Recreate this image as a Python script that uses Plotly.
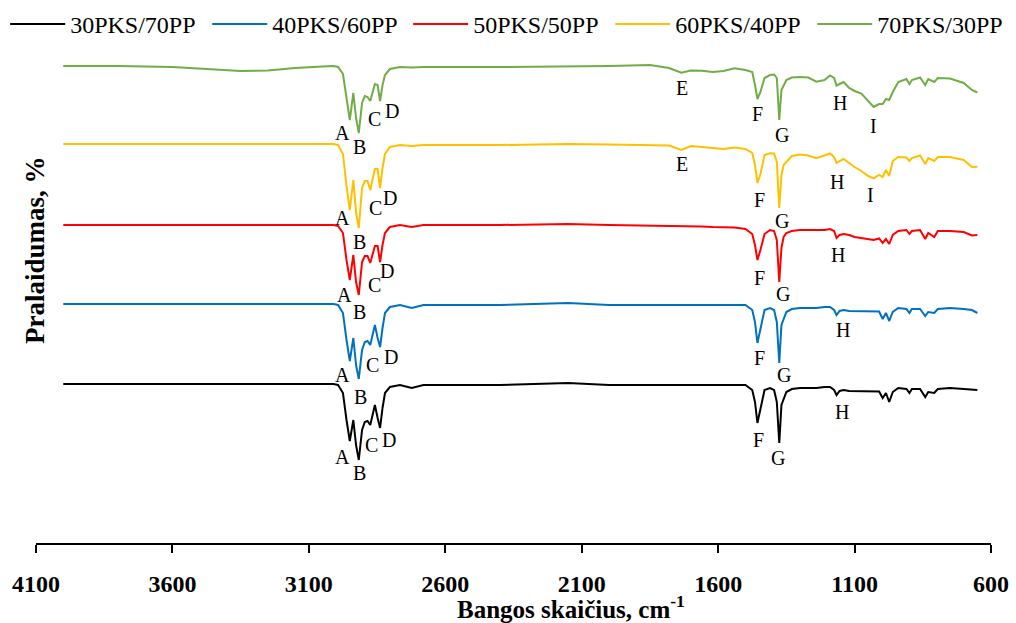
import plotly.graph_objects as go

# Wavenumbers (cm-1), shared by all spectra
wavenumber = [4000, 3800, 3600, 3450, 3350, 3250, 3150, 3050, 3010, 2993,
              2975, 2962, 2950, 2937, 2927, 2917, 2905, 2895, 2885, 2875,
              2858, 2848, 2839, 2830, 2821, 2803, 2766, 2723, 2680, 2400,
              2150, 2000, 1850, 1780, 1735, 1700, 1660, 1620, 1580, 1540,
              1500, 1475, 1465, 1456, 1445, 1430, 1410, 1395, 1385, 1376,
              1368, 1360, 1350, 1330, 1300, 1270, 1240, 1210, 1190, 1175,
              1166, 1155, 1140, 1120, 1100, 1075, 1050, 1030, 1010, 997,
              985, 973, 960, 940, 910, 899, 890, 860, 841, 830,
              808, 795, 750, 700, 670, 650]

# Offset transmittance (arbitrary units)
pks30_pp70 = [159, 159, 159, 159, 159, 159, 159, 159, 159, 158,
              150, 123, 102, 123, 98, 83, 113, 121, 122, 118,
              138, 125, 115, 135, 150, 156, 158, 155, 158, 158,
              160, 158, 158, 158, 158, 158, 158, 158, 158, 158,
              158, 153, 141, 120, 133, 153, 155, 153, 141, 100,
              138, 143, 151, 154, 155, 155, 155, 156, 156, 153,
              148, 152, 153, 152, 152, 151.5, 151.5, 151.5, 151.5, 145,
              150, 141, 151, 155, 154, 150, 154, 154, 146, 151,
              150, 154, 155, 154, 153.5, 153]

pks40_pp60 = [239, 239, 239, 239, 239, 239, 239, 239, 239, 238,
              230, 203, 182, 205, 178, 164, 193, 201, 202, 198,
              218, 205, 196, 215, 230, 236, 238, 235, 238, 238,
              240, 238, 238, 238, 238, 238, 238, 238, 238, 238,
              238, 233, 221, 200, 213, 233, 235, 233, 221, 180,
              218, 223, 231, 234, 235, 235, 235, 236, 236, 233,
              228, 232, 233, 232, 232, 231.5, 231.5, 231.5, 231.5, 224,
              230, 222, 231, 235, 234, 230, 234, 234, 227, 231,
              230, 234, 235, 234, 233, 230]

pks50_pp50 = [318, 318, 318, 318, 318, 318, 318, 318, 318, 317,
              310, 283, 263, 288, 261, 248, 281, 287, 287, 280,
              297, 297, 281, 298, 310, 316, 318, 316, 318, 318,
              319, 318, 317.5, 317.5, 317, 317, 316.5, 316, 316, 315.5,
              314, 309, 298, 283, 293, 309, 313, 312, 303, 261,
              295, 306, 310, 312, 313, 313, 312.5, 313, 314, 312,
              305, 308, 309, 308, 306, 305, 304, 303, 304.5, 300,
              304, 299, 308, 312, 313, 309, 312, 313, 304, 310,
              306, 312, 312, 311, 307.5, 308]

pks60_pp40 = [399, 399, 399, 399, 399, 399, 399, 399, 399, 398,
              389, 357, 333, 363, 331, 315, 355, 362, 362, 353,
              374, 374, 355, 375, 389, 396, 398, 397, 398, 398,
              399, 398.5, 398, 397.5, 393, 397, 396, 395, 394, 395.5,
              394, 390, 378, 360, 369, 388, 389.7, 389.5, 381, 335,
              368, 378, 381, 387, 388.5, 387.5, 384.7, 388, 389.5, 386,
              380, 382, 384, 380, 376, 372, 367, 364.7, 368, 366,
              373, 367, 382, 386, 385.5, 382, 385, 387.5, 379, 385,
              382, 386, 386, 383, 376, 376.3]

pks70_pp30 = [477, 477, 476, 474, 472, 472.5, 475, 476.5, 477, 476,
              469, 445, 423, 450, 425, 410, 440, 447, 446, 442,
              459, 458, 442, 458, 468, 474, 476, 475.5, 476, 476,
              476.5, 477, 478, 475, 470.3, 472.5, 472.3, 471, 472, 474.7,
              473, 471, 458, 444, 451, 465, 468, 468.5, 465, 423,
              453, 458, 463, 465.5, 466, 465.5, 461.3, 463, 467.5, 465,
              457.5, 459, 461, 455, 452, 449.5, 441.5, 436, 439, 439,
              444, 443, 451, 461, 464, 459, 463, 465.5, 458, 464,
              461, 465, 464.5, 460, 453, 450.5]

series_names = ["30PKS/70PP", "40PKS/60PP", "50PKS/50PP", "60PKS/40PP", "70PKS/30PP"]
series_values = [pks30_pp70, pks40_pp60, pks50_pp50, pks60_pp40, pks70_pp30]
series_colors = ["#000000", "#0070C0", "#FF0000", "#FFC000", "#70AD47"]

# Band labels: letter, wavenumber, y
label_letters = ["A", "B", "C", "D", "E", "F", "G", "H", "I",
                 "A", "B", "C", "D", "E", "F", "G", "H", "I",
                 "A", "B", "C", "D", "F", "G", "H",
                 "A", "B", "C", "D", "F", "G", "H",
                 "A", "B", "C", "D", "F", "G", "H"]
label_x = [2975, 2916, 2858, 2795, 1732, 1454, 1366, 1153, 1029,
           2975, 2916, 2854, 2803, 1732, 1450, 1366, 1164, 1040,
           2968, 2916, 2861, 2814, 1450, 1363, 1160,
           2976, 2912, 2866, 2799, 1450, 1358, 1142,
           2976, 2916, 2869, 2807, 1453, 1379, 1147]
label_y = [410, 396, 424, 432, 455, 429, 408, 440, 417,
           325, 301, 335, 345, 379, 343, 322, 361, 348,
           248, 231, 258, 272, 265, 249, 288,
           168, 146, 178, 186, 185, 168, 213,
           86, 70, 98, 103, 103, 85, 131]

x_ticks = [4100, 3600, 3100, 2600, 2100, 1600, 1100, 600]

FONT = "Times New Roman, Liberation Serif, serif"

# one legend box per series so the entries sit where the reference puts them
legend_ids = ["legend", "legend2", "legend3", "legend4", "legend5"]
legend_x = [-0.0323, 0.1793, 0.3897, 0.6013, 0.8128]

fig = go.Figure()
for name, vals, col, lid in zip(series_names, series_values, series_colors, legend_ids):
    fig.add_trace(go.Scatter(x=wavenumber, y=vals, mode="lines", name=name,
                             line=dict(color=col, width=2), legend=lid))

for t, x, y in zip(label_letters, label_x, label_y):
    fig.add_annotation(x=x, y=y, text=t, showarrow=False,
                       font=dict(family=FONT, size=20, color="black"))

# Axis titles
fig.add_annotation(xref="paper", yref="paper", x=0.56, y=-0.128,
                   xanchor="center", yanchor="middle", showarrow=False,
                   text="Bangos skaičius, cm<sup>-1</sup>",
                   font=dict(family=FONT, size=25, color="black", weight="bold"))
fig.add_annotation(xref="paper", yref="paper", x=-0.001, y=0.586,
                   xanchor="center", yanchor="middle", showarrow=False, textangle=-90,
                   text="Pralaidumas, %",
                   font=dict(family=FONT, size=27, color="black", weight="bold"))

legend_style = dict(orientation="h", xanchor="left", y=1.037, yanchor="middle",
                    font=dict(family=FONT, size=24, color="black"),
                    itemwidth=55, bgcolor="rgba(0,0,0,0)", borderwidth=0)

layout_legends = {}
for lid, lx in zip(legend_ids, legend_x):
    layout_legends[lid] = dict(x=lx, **legend_style)

fig.update_layout(
    width=1016, height=623,
    margin=dict(l=36, r=25, t=43, b=80, autoexpand=False),
    paper_bgcolor="white", plot_bgcolor="white",
    font=dict(family=FONT, color="black"),
    showlegend=True,
    xaxis=dict(range=[4100, 600], tickvals=x_ticks, ticktext=[str(v) for v in x_ticks],
               showline=True, linecolor="black", linewidth=1.5,
               ticks="outside", ticklen=8, tickwidth=1.5, tickcolor="black",
               ticklabelstandoff=10, automargin=False,
               tickfont=dict(family=FONT, size=24, color="black", weight="bold"),
               showgrid=False, zeroline=False),
    yaxis=dict(range=[0, 500], showline=False, showticklabels=False, ticks="",
               showgrid=False, zeroline=False, automargin=False),
    **layout_legends,
)

fig.write_html("out.html")
